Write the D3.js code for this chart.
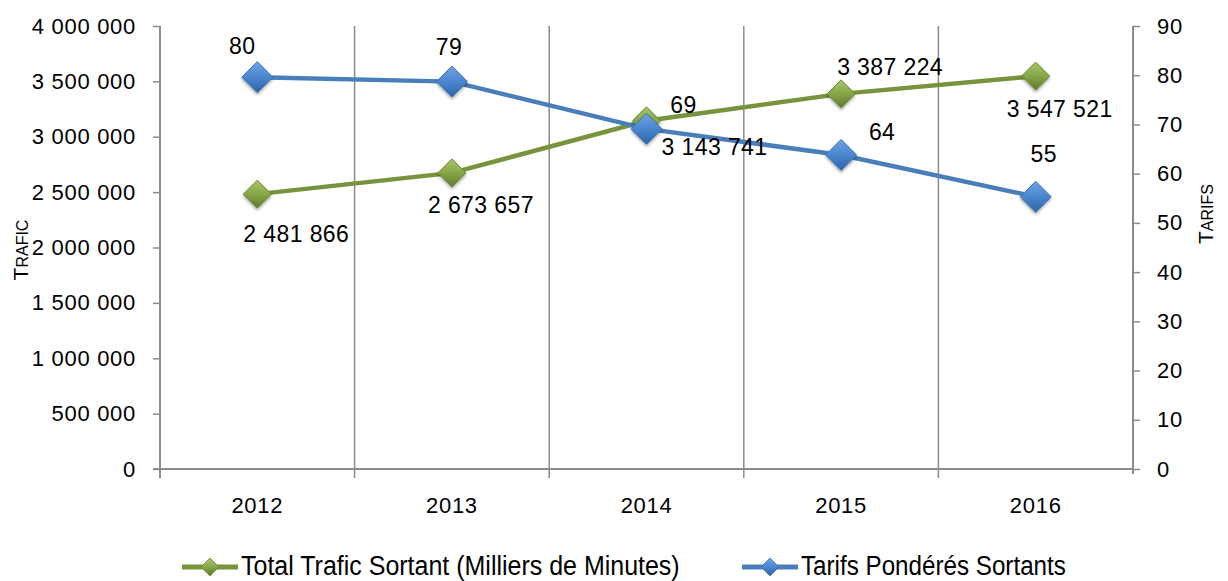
<!DOCTYPE html>
<html><head><meta charset="utf-8">
<script src="https://cdn.jsdelivr.net/npm/d3@7"></script>
<style>
html,body{margin:0;padding:0;background:#fff;}
svg{display:block;}
</style></head>
<body>
<svg id="chart" width="1228" height="581"></svg>
<script>
const years = ["2012","2013","2014","2015","2016"];
const trafic = [2481866, 2673657, 3143741, 3387224, 3547521];
const tarifs = [79.6, 78.7, 69.1, 63.8, 55.3];
const leftTicks = [0,500000,1000000,1500000,2000000,2500000,3000000,3500000,4000000];
const rightTicks = [0,10,20,30,40,50,60,70,80,90];
const seriesNames = ["Total Trafic Sortant (Milliers de Minutes)", "Tarifs Pondérés Sortants"];
// label offsets (layout only)
const traficLabelOff = [[39,48],[29,40],[68,34],[49,-19],[24,41]];
const tarifLabelOff = [[-15,-23],[-3,-27],[37,-16],[41,-15],[8,-35]];

const svg = d3.select("#chart");
const M = {left:160, right:1133, top:26, bottom:469};
const fmt = v => d3.format(",")(v).replace(/,/g, " ");

const x = d3.scaleBand().domain(years).range([M.left, M.right]);
const yL = d3.scaleLinear().domain([0,4000000]).range([M.bottom, M.top]);
const yR = d3.scaleLinear().domain([0,90]).range([M.bottom, M.top]);

const defs = svg.append("defs");
function grad(id, c1, c2, c3){
  const g = defs.append("linearGradient").attr("id",id).attr("x1","0").attr("y1","0").attr("x2","0").attr("y2","1");
  g.append("stop").attr("offset","0%").attr("stop-color",c1);
  g.append("stop").attr("offset","50%").attr("stop-color",c2);
  g.append("stop").attr("offset","100%").attr("stop-color",c3);
}
grad("gBlue","#6fa4e0","#4a86cf","#2d64a8");
grad("gGreen","#a9c66a","#86a647","#5d7a2b");
const f = defs.append("filter").attr("id","sh").attr("x","-50%").attr("y","-50%").attr("width","200%").attr("height","200%");
f.append("feDropShadow").attr("dx",0).attr("dy",2).attr("stdDeviation",1.5).attr("flood-color","#000").attr("flood-opacity",0.35);

const gridColor = "#8c8c8c";
const baseFont = "'Liberation Sans', Arial, sans-serif";
// vertical gridlines at band boundaries
const bounds = years.slice(1).map(d => x(d));
svg.append("g").selectAll("line").data(bounds).join("line")
  .attr("x1",d=>d).attr("x2",d=>d).attr("y1",M.top).attr("y2",M.bottom+9)
  .attr("stroke",gridColor).attr("stroke-width",1.5);

// Left axis
const axL = svg.append("g").attr("transform",`translate(${M.left},0)`)
  .call(d3.axisLeft(yL).tickValues(leftTicks).tickFormat(fmt).tickSize(7).tickPadding(17));
axL.select(".domain").remove();
axL.append("line").attr("x1",0).attr("x2",0).attr("y1",M.top).attr("y2",M.bottom+9).attr("stroke",gridColor).attr("stroke-width",2);
// Right axis
const axR = svg.append("g").attr("transform",`translate(${M.right},0)`)
  .call(d3.axisRight(yR).tickValues(rightTicks).tickSize(7).tickPadding(17));
axR.select(".domain").remove();
axR.append("line").attr("x1",0).attr("x2",0).attr("y1",M.top).attr("y2",M.bottom+5).attr("stroke",gridColor).attr("stroke-width",2);
// Bottom axis
const axB = svg.append("g").attr("transform",`translate(0,${M.bottom})`)
  .call(d3.axisBottom(x).tickSize(0).tickPadding(28));
axB.select(".domain").remove();
svg.append("line").attr("x1",M.left-7).attr("x2",M.right).attr("y1",M.bottom).attr("y2",M.bottom).attr("stroke",gridColor).attr("stroke-width",2);

[axL,axR].forEach(a=>a.selectAll(".tick line").attr("stroke",gridColor).attr("stroke-width",1.5));
[axL,axR,axB].forEach(a=>{
  a.attr("font-family",null).attr("font-size",null);
  a.selectAll(".tick text")
  .style("font-family",baseFont).style("font-size","22px")
  .style("letter-spacing","0.7px").attr("fill","#000");
});

// Axis titles
function smallCapsTitle(text, tx, ty){
  const t = svg.append("text").attr("transform",`translate(${tx},${ty}) rotate(-90)`)
    .attr("text-anchor","middle").style("font-family",baseFont).attr("fill","#000");
  t.append("tspan").style("font-size","21px").text(text[0]);
  t.append("tspan").style("font-size","16px").text(text.slice(1));
}
smallCapsTitle("TRAFIC", 28, 250);
smallCapsTitle("TARIFS", 1213, 214);

// Lines
const cx = d => x(d) + x.bandwidth()/2;
const lineT = d3.line().x((d,i)=>cx(years[i])).y(d=>yL(d));
const lineR = d3.line().x((d,i)=>cx(years[i])).y(d=>yR(d));
const blue = "#4a7ebb", green = "#77933c";

svg.append("path").datum(trafic).attr("d",lineT).attr("fill","none").attr("stroke",green).attr("stroke-width",4.5);
svg.append("path").datum(tarifs).attr("d",lineR).attr("fill","none").attr("stroke",blue).attr("stroke-width",4.5);

const diamond = r => `M0,${-r}L${r},0L0,${r}L${-r},0Z`;
function markers(data, yS, r, fill, stroke){
  svg.append("g").selectAll("path").data(data).join("path")
    .attr("transform",(d,i)=>`translate(${cx(years[i])},${yS(d)})`)
    .attr("d",diamond(r)).attr("fill",fill).attr("stroke",stroke).attr("stroke-width",1).attr("filter","url(#sh)");
}
markers(trafic, yL, 14, "url(#gGreen)", "#6b8a34");
markers(tarifs, yR, 15.5, "url(#gBlue)", "#3f73b3");

// Data labels
svg.append("g").selectAll("text").data(trafic).join("text")
  .attr("x",(d,i)=>cx(years[i]) + traficLabelOff[i][0]).attr("y",(d,i)=>yL(d) + traficLabelOff[i][1])
  .attr("text-anchor","middle").style("font-family",baseFont).style("font-size","23px").style("letter-spacing","0.4px").attr("fill","#000")
  .text(d=>fmt(d));
svg.append("g").selectAll("text").data(tarifs).join("text")
  .attr("x",(d,i)=>cx(years[i]) + tarifLabelOff[i][0]).attr("y",(d,i)=>yR(d) + tarifLabelOff[i][1])
  .attr("text-anchor","middle").style("font-family",baseFont).style("font-size","23px").style("letter-spacing","0.4px").attr("fill","#000")
  .text(d=>d3.format(".0f")(d));

// Legend
const legend = [
  {name: seriesNames[0], color: green, fill:"url(#gGreen)", stroke:"#6b8a34", x0:182, w:439},
  {name: seriesNames[1], color: blue, fill:"url(#gBlue)", stroke:"#3f73b3", x0:742, w:265}
];
const ly = 567;
const lg = svg.append("g").selectAll("g").data(legend).join("g").attr("transform",d=>`translate(${d.x0},${ly})`);
lg.append("line").attr("x1",0).attr("x2",56).attr("y1",0).attr("y2",0).attr("stroke",d=>d.color).attr("stroke-width",5);
lg.append("path").attr("transform","translate(28,0)").attr("d",diamond(9)).attr("fill",d=>d.fill).attr("stroke",d=>d.stroke).attr("stroke-width",0.8);
lg.append("text").attr("y",8).style("font-family",baseFont)
  .style("font-size","27px").attr("fill","#000").text(d=>d.name)
  .each(function(d){
    const w = this.getComputedTextLength();
    const s = d.w / w;
    d3.select(this).attr("transform",`translate(59,0) scale(${s},1)`);
  });
</script>
</body></html>
